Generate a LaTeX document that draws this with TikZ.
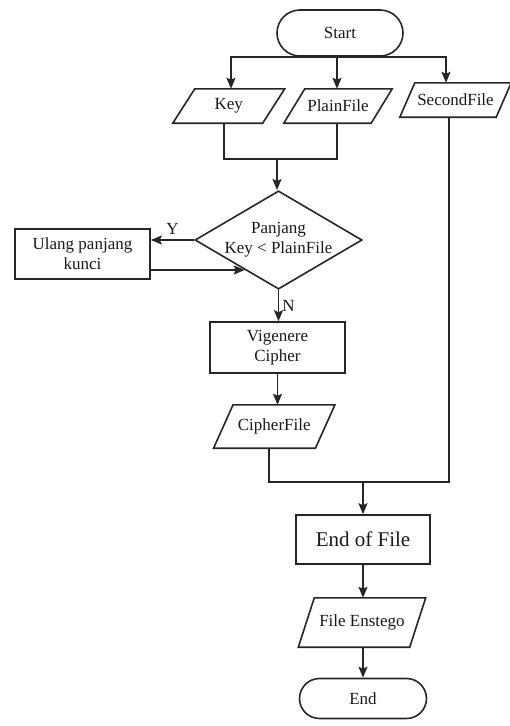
\documentclass[tikz,border=0pt]{standalone}
\usepackage{fontspec}
\setmainfont{Liberation Serif}
\usetikzlibrary{shapes.geometric,shapes.misc,arrows.meta,calc}
\newcommand\drawpara[2]{\draw[ln] ([xshift=#2pt]#1.north west) -- ([xshift=#2pt]#1.north east) -- ([xshift=-#2pt]#1.south east) -- ([xshift=-#2pt]#1.south west) -- cycle;}
\begin{document}
\begin{tikzpicture}[x=1pt,y=-1pt,
  every node/.style={font=\fontsize{17}{20}\selectfont, inner sep=0pt, align=center, text=black!90},
  ln/.style={line width=1.6pt, draw=black!85},
  arr/.style={ln, -{Stealth[length=11pt,width=9pt,inset=2pt]}},
  term/.style={ln, rounded rectangle},
  box/.style={ln, rectangle},
  io/.style={rectangle},
  lbl/.style={font=\fontsize{17}{20}\selectfont}
]
\useasboundingbox (0,0) rectangle (510,726);
% nodes
\node[term, minimum width=126pt, minimum height=46pt] (start) at (340,33) {Start};
\node[io, minimum width=89.5pt, minimum height=34pt] (key) at (228.75,106) {Key};
\node[io, minimum width=87pt, minimum height=34pt] (plain) at (338,106) {PlainFile};
\node[io, minimum width=96pt, minimum height=34pt] (second) at (455.5,100) {SecondFile};
\node[ln, diamond, minimum width=159pt, minimum height=94pt, aspect=1.7] (dec) at (278.5,240) {Panjang\\Key {\char"3C} PlainFile};
\node[box, minimum width=135pt, minimum height=50pt] (ulang) at (82.5,254) {Ulang panjang\\kunci};
\node[box, minimum width=135pt, minimum height=51pt] (vig) at (277.5,347.5) {Vigenere\\Cipher};
\node[io, minimum width=101.5pt, minimum height=43pt] (cipher) at (274.25,426.5) {CipherFile};
\node[box, minimum width=134pt, minimum height=49pt, font=\fontsize{21}{24}\selectfont] (eof) at (363,539.5) {End of File};
\node[io, minimum width=111pt, minimum height=49pt] (enst) at (362,622.5) {File Enstego};
\node[term, minimum width=127pt, minimum height=40pt] (end) at (363,698.5) {End};
\drawpara{key}{11}
\drawpara{plain}{10.5}
\drawpara{second}{7.5}
\drawpara{cipher}{9.75}
\drawpara{enst}{8}
% helper coordinates
\coordinate (top) at (340,57);
\coordinate (join1) at (277,159);
\coordinate (join2) at (363,482);
% connectors from Start
\draw[ln] (start.south) -- (top);
\draw[arr] (top) -| ([xshift=2.25pt]key.north);
\draw[arr] (top) -| ([xshift=-1pt]plain.north);
\draw[arr] (top) -| ([xshift=-9.5pt]second.north);
% Key + PlainFile merge
\draw[ln] ([xshift=-4.75pt]key.south) |- (join1) -| ([xshift=-1pt]plain.south);
\draw[arr] (join1) -- (join1 |- dec.north);
% decision
\draw[arr] (dec.west) -- (dec.west -| ulang.east) node[lbl, midway, above=5pt] {Y};
\coordinate (P) at ($(dec.west)!0.6!(dec.south)$);
\draw[arr] (ulang.east |- P) -- (P);
\draw[arr] (dec.south) -- (dec.south |- vig.north) node[lbl, midway, right=3pt] {N};
\draw[arr] (vig.south) -- (vig.south |- cipher.north);
% merge into End of File
\draw[ln] ([xshift=-5.25pt]cipher.south) |- (join2) -| ([xshift=-6.5pt]second.south);
\draw[arr] (join2) -- (eof.north);
\draw[arr] (eof.south) -- (eof.south |- enst.north);
\draw[arr] (eof.south |- enst.south) -- (end.north);
\end{tikzpicture}
\end{document}
